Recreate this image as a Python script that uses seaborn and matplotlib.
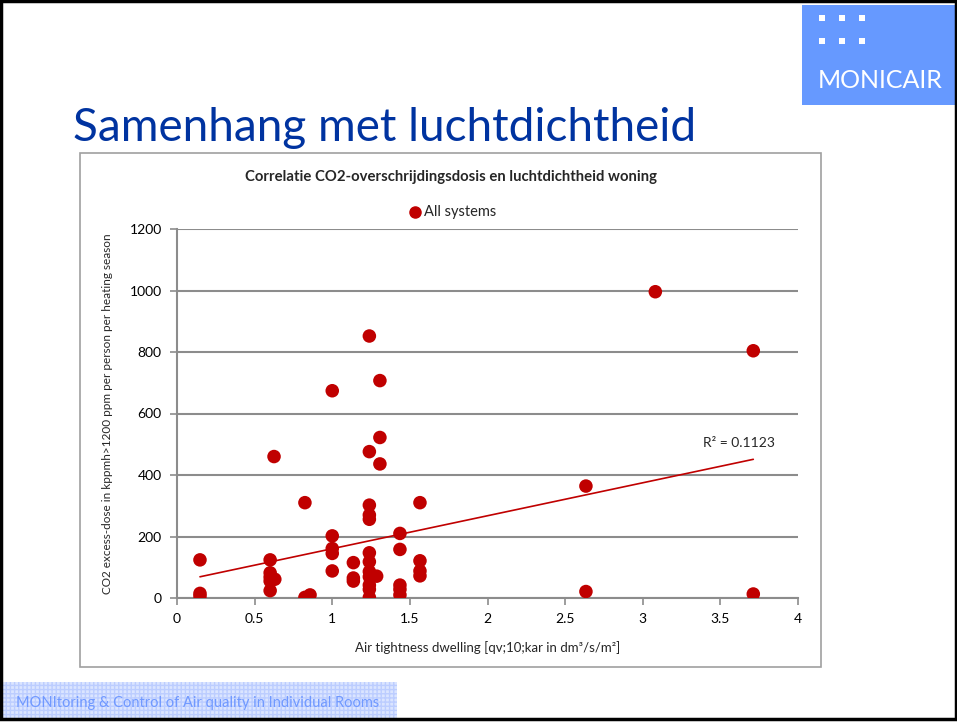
import numpy as np
import pandas as pd
import matplotlib
matplotlib.use("Agg")
import matplotlib.pyplot as plt
import seaborn as sns
from matplotlib.patches import Rectangle

# ---- data ----
air_tightness = [0.148, 0.148, 0.148,
                 0.60, 0.60, 0.60, 0.60, 0.60, 0.63, 0.625,
                 0.824, 0.824, 0.857,
                 1.0, 1.0, 1.0, 1.0, 1.0,
                 1.136, 1.136, 1.136,
                 1.239, 1.239, 1.239, 1.239, 1.239, 1.239, 1.239, 1.239, 1.239, 1.239, 1.239, 1.239,
                 1.286,
                 1.307, 1.307, 1.307,
                 1.436, 1.436, 1.436, 1.436, 1.436,
                 1.565, 1.565, 1.565, 1.565,
                 2.634, 2.634,
                 3.081,
                 3.712, 3.712]
co2_dose = [124, 15, 6,
            124, 82, 68, 55, 24, 61, 460,
            310, 2, 10,
            674, 202, 161, 145, 88,
            115, 65, 55,
            852, 476, 302, 270, 256, 147, 118, 86, 69, 42, 28, 2,
            71,
            707, 522, 436,
            210, 158, 42, 28, 10,
            310, 121, 88, 72,
            364, 21,
            996,
            804, 13]
series_name = "All systems"
# linear trend line as drawn in the chart (end points)
trend_x = [0.148, 3.712]
trend_y = [69, 451]
x_ticks = [0, 0.5, 1, 1.5, 2, 2.5, 3, 3.5, 4]
x_tick_labels = ["0", "0.5", "1", "1.5", "2", "2.5", "3", "3.5", "4"]
y_ticks = [0, 200, 400, 600, 800, 1000, 1200]
r2_label = "R\u00b2 = 0.1123"

df = pd.DataFrame({"x": air_tightness, "y": co2_dose, "series": series_name})
trend = pd.DataFrame({"x": trend_x, "y": trend_y})

sns.set_theme(style="white")
plt.rcParams["font.family"] = ["Lato", "DejaVu Sans"]

W, H = 957, 722
fig = plt.figure(figsize=(W / 100, H / 100), dpi=100)
fig.patch.set_facecolor("white")

def fx(px):
    return px / W

def fy(py):
    return 1 - py / H

RED = "#C00000"
GRID = "#8c8c8c"

# slide frame
fig.add_artist(Rectangle((fx(1), fy(719)), fx(955), 718 / H, transform=fig.transFigure,
                         fill=False, edgecolor="black", linewidth=2.5, zorder=5))

# logo box
fig.add_artist(Rectangle((fx(802), fy(105)), fx(155), 100 / H, transform=fig.transFigure,
                         facecolor="#6699FF", edgecolor="none", zorder=-5))
for rx in (819, 839, 859):
    for ry in (15, 38):
        fig.add_artist(Rectangle((fx(rx), fy(ry + 6)), fx(6), 6 / H, transform=fig.transFigure,
                                 facecolor="white", edgecolor="none", zorder=-4))
fig.text(fx(880), fy(80), "MONICAIR", color="white", fontsize=18, ha="center", va="center")

# slide title
fig.text(fx(73), fy(128), "Samenhang met luchtdichtheid", color="#0033A0",
         fontsize=33, ha="left", va="center")

# chart box
fig.add_artist(Rectangle((fx(80), fy(667)), fx(741), 514 / H, transform=fig.transFigure,
                         facecolor="white", edgecolor="#a0a0a0", linewidth=1.2, zorder=-5))

# footer
fig.add_artist(Rectangle((fx(3), fy(718)), fx(394), 36 / H, transform=fig.transFigure,
                         facecolor="#dbe5ff", edgecolor="#bccdff", hatch="++++",
                         linewidth=0, zorder=-5))
fig.text(fx(16), fy(703), "MONItoring & Control of Air quality in Individual Rooms",
         color="#7099ff", fontsize=10.5, ha="left", va="center")

# axes
ax = fig.add_axes([fx(177), fy(598), fx(798 - 177), (598 - 229) / H])
ax.set_facecolor("none")
sns.scatterplot(data=df, x="x", y="y", ax=ax, color=RED, s=95, edgecolor="none",
                legend=False, zorder=3)
sns.lineplot(data=trend, x="x", y="y", ax=ax, color=RED, linewidth=1.2, zorder=2,
             legend=False)

ax.set_xlim(0, 4)
ax.set_ylim(0, 1200)
ax.set_xticks(x_ticks)
ax.set_xticklabels(x_tick_labels)
ax.set_yticks(y_ticks)
ax.yaxis.grid(True, color=GRID, linewidth=1.5)
ax.xaxis.grid(False)
for side in ("top", "right"):
    ax.spines[side].set_visible(False)
for side in ("left", "bottom"):
    ax.spines[side].set_color(GRID)
    ax.spines[side].set_linewidth(1.5)
ax.tick_params(axis="both", which="both", length=5, width=1.2, color=GRID,
               labelsize=10, labelcolor="black", direction="out", pad=6,
               left=True, bottom=True)
ax.set_xlabel("Air tightness dwelling [qv;10;kar in dm\u00b3/s/m\u00b2]", fontsize=9.5, labelpad=11)
ax.set_ylabel("CO2 excess-dose in kppmh>1200 ppm per person per heating season",
              fontsize=8.5, labelpad=12)
ax.set_axisbelow(True)

ax.text(3.62, 504, r2_label, fontsize=10, ha="center", va="center")

# chart title and legend
fig.text(fx(451), fy(177), "Correlatie CO2-overschrijdingsdosis en luchtdichtheid woning",
         fontsize=10.7, fontweight="bold", ha="center", va="center")
fig.lines.append(plt.Line2D([fx(415)], [fy(212)], marker="o", color=RED, markersize=8,
                            linestyle="none", transform=fig.transFigure))
fig.text(fx(424), fy(212), series_name, fontsize=10.5, ha="left", va="center")

fig.savefig("out.png", dpi=100, facecolor="white")
